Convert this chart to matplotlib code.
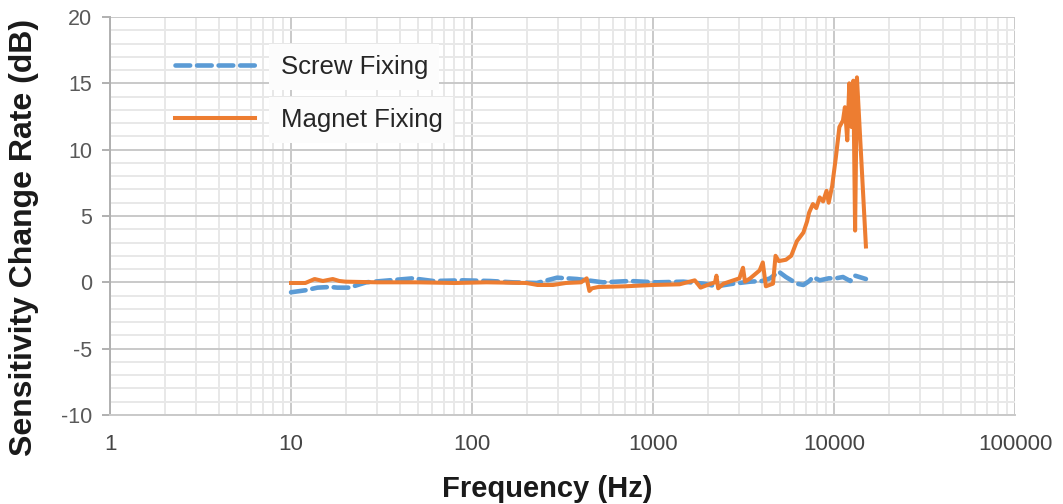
import matplotlib
matplotlib.use("Agg")
import matplotlib.pyplot as plt
import matplotlib.ticker as mticker

plt.rcParams['font.family'] = ['Liberation Sans', 'DejaVu Sans']
plt.rcParams['axes.unicode_minus'] = False

# Screw fixing (blue dashed)
screw_freq = [10, 12, 14, 16.5, 18, 21, 26, 35, 47, 61, 89, 126, 168, 228, 295, 380,
              530, 745, 1050, 1470, 1900, 2240, 2780, 3440, 4000, 4430, 4950, 5420,
              6230, 6770, 7300, 7640, 8330, 9340, 10200, 11200, 12300, 13070, 15000]
screw_val = [-0.75, -0.6, -0.4, -0.35, -0.4, -0.4, 0.0, 0.15, 0.3, 0.1, 0.15, 0.1, 0.0,
             -0.05, 0.35, 0.25, 0.0, 0.1, 0.0, 0.05, -0.1, -0.3, -0.1, 0.05, 0.1, 0.3,
             0.8, 0.4, -0.1, -0.2, 0.1, 0.4, 0.15, 0.3, 0.3, 0.4, 0.1, 0.5, 0.25]

# Magnet fixing (orange solid)
magnet_freq = [10, 12, 13.5, 15, 17, 18.5, 20, 30, 50, 80, 120, 200, 230, 280, 330, 400,
               430, 445, 460, 500, 700, 1000, 1400, 1700, 1760, 1830, 2000, 2200, 2240,
               2290, 2450, 3000, 3140, 3220, 3440, 3880, 4040, 4200, 4600, 4750, 4950,
               5420, 5800, 6230, 6770, 7100, 7280, 7640, 7980, 8330, 8700, 9090, 9340,
               9760, 10240, 10700, 11200, 11480, 11830, 12140, 12500, 12780, 13070,
               13380, 15000]
magnet_val = [-0.05, -0.05, 0.25, 0.1, 0.25, 0.1, 0.05, 0.0, 0.0, -0.05, 0.0, -0.05,
              -0.2, -0.2, -0.05, 0.0, 0.3, -0.65, -0.45, -0.35, -0.3, -0.2, -0.15, 0.15,
              -0.1, -0.4, -0.2, 0.0, 0.5, -0.45, -0.1, 0.3, 1.1, 0.05, 0.3, 0.9, 1.5,
              -0.3, -0.1, 2.0, 1.6, 1.7, 2.0, 3.1, 3.75, 4.6, 5.25, 5.9, 5.6, 6.4, 6.1,
              6.9, 6.0, 7.25, 9.45, 11.7, 12.2, 13.2, 10.7, 15.0, 11.7, 15.2, 3.9,
              15.45, 2.7]

x_ticks = [1, 10, 100, 1000, 10000, 100000]
y_ticks = [-10, -5, 0, 5, 10, 15, 20]

fig = plt.figure(figsize=(10.63, 5.04), dpi=100)
ax = fig.add_axes([0.1035, 0.1766, 0.8514, 0.7897])

ax.set_xscale('log')
ax.set_xlim(1, 100000)
ax.set_ylim(-10, 20)
ax.set_xticks(x_ticks)
ax.set_xticklabels([str(t) for t in x_ticks])
ax.xaxis.set_minor_locator(mticker.LogLocator(base=10, subs=range(2, 10), numticks=20))
ax.xaxis.set_minor_formatter(mticker.NullFormatter())
ax.set_yticks(y_ticks)
ax.yaxis.set_minor_locator(mticker.MultipleLocator(1))

ax.grid(which='minor', color='#e8e8e8', linewidth=1.4)
ax.grid(which='major', color='#c9c9c9', linewidth=1.4)
ax.set_axisbelow(True)

for side in ['top', 'right']:
    ax.spines[side].set_visible(False)
ax.spines['left'].set_color('#b0b0b0')
ax.spines['left'].set_linewidth(1.4)
ax.spines['bottom'].set_color('#c9c9c9')
ax.spines['bottom'].set_linewidth(1.4)

ax.tick_params(axis='x', which='both', length=0, pad=14, labelsize=16, labelcolor='#454545')
ax.tick_params(axis='y', which='major', length=6, width=1.4, color='#b0b0b0',
               pad=7, labelsize=15.5, labelcolor='#595959')
ax.tick_params(axis='y', which='minor', length=0)

ax.plot(screw_freq, screw_val, color='#5b9bd5', linewidth=3.3, linestyle=(0, (3.2, 1.5)),
        label='Screw Fixing', solid_capstyle='round', dash_capstyle='round')
ax.plot(magnet_freq, magnet_val, color='#ed7d31', linewidth=2.9, label='Magnet Fixing',
        solid_joinstyle='round')

leg = ax.legend(loc='upper left', bbox_to_anchor=(0.072, 0.905), frameon=False,
                fontsize=18.5, handlelength=3.1, handletextpad=1.0, labelspacing=1.15,
                borderpad=0, borderaxespad=0)
for t in leg.get_texts():
    t.set_color('#262626')
    t.set_bbox(dict(facecolor='#fcfcfc', edgecolor='none', pad=8))

fig.text(547 / 1063, 1 - 489 / 504, 'Frequency (Hz)', ha='center', va='center',
         fontsize=21, fontweight='bold', color='#1a1a1a')
fig.text(24 / 1063, 1 - 237 / 504, 'Sensitivity Change Rate (dB)', ha='center', va='center',
         rotation=90, fontsize=23, fontweight='bold', color='#1a1a1a')

fig.savefig('out.png', dpi=100)
